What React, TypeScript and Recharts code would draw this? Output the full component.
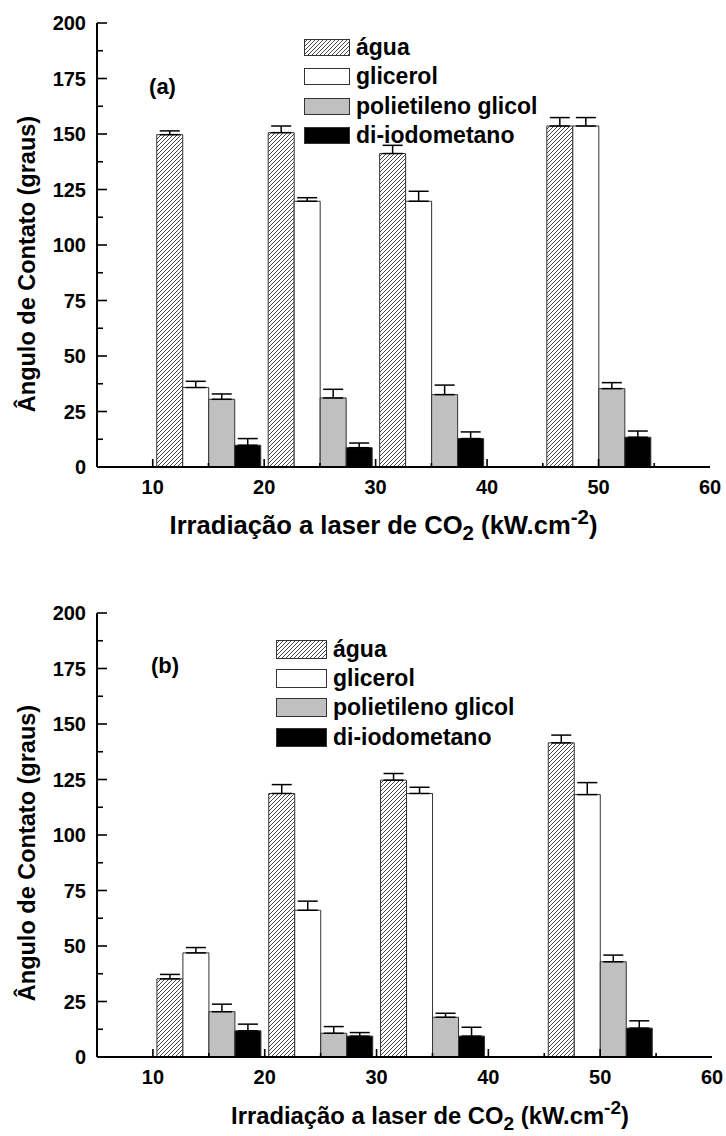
import React from 'react';
import { ComposedChart, Bar, XAxis, YAxis, ErrorBar, Legend } from 'recharts';

// posições dos grupos no eixo de irradiação
const irradiacao = [15, 25, 35, 50];
const xTicks = [10, 15, 20, 25, 30, 35, 40, 45, 50, 55, 60];
const yTicks = [0, 12.5, 25, 37.5, 50, 62.5, 75, 87.5, 100, 112.5, 125, 137.5, 150, 162.5, 175, 187.5, 200];

// painel (a)
const aguaA = [149.7, 150.6, 141.2, 153.6];
const aguaErrA = [1.7, 3.0, 3.7, 3.8];
const glicerolA = [35.8, 119.7, 119.7, 153.6];
const glicerolErrA = [2.8, 1.6, 4.5, 3.8];
const pegA = [30.5, 31.1, 32.6, 35.3];
const pegErrA = [2.4, 3.9, 4.3, 2.7];
const diiodoA = [9.8, 8.7, 12.8, 13.4];
const diiodoErrA = [3.0, 2.1, 3.0, 2.8];

// painel (b)
const aguaB = [35.2, 118.7, 124.7, 141.5];
const aguaErrB = [2.0, 4.0, 3.0, 3.5];
const glicerolB = [46.9, 66.1, 118.7, 118.2];
const glicerolErrB = [2.4, 4.1, 2.8, 5.4];
const pegB = [20.4, 10.7, 17.9, 42.9];
const pegErrB = [3.4, 3.0, 1.8, 3.0];
const diiodoB = [11.8, 9.4, 9.4, 13.0];
const diiodoErrB = [3.0, 1.6, 4.0, 3.3];

const FONT = '"Liberation Sans", Arial, Helvetica, sans-serif';

const series = [
  { key: 'agua', name: 'água', fill: 'hatch' },
  { key: 'glicerol', name: 'glicerol', fill: '#ffffff' },
  { key: 'peg', name: 'polietileno glicol', fill: '#c0c0c0' },
  { key: 'diiodo', name: 'di-iodometano', fill: '#000000' },
];

const buildRows = (agua: number[], aguaErr: number[], gli: number[], gliErr: number[], peg: number[], pegErr: number[], di: number[], diErr: number[]) =>
  irradiacao.map((x, i) => ({
    x,
    agua: agua[i], aguaErr: [0, aguaErr[i]],
    glicerol: gli[i], glicerolErr: [0, gliErr[i]],
    peg: peg[i], pegErr: [0, pegErr[i]],
    diiodo: di[i], diiodoErr: [0, diErr[i]],
  }));

const dataA = buildRows(aguaA, aguaErrA, glicerolA, glicerolErrA, pegA, pegErrA, diiodoA, diiodoErrA);
const dataB = buildRows(aguaB, aguaErrB, glicerolB, glicerolErrB, pegB, pegErrB, diiodoB, diiodoErrB);

const HatchDef = ({ id }: { id: string }) => (
  <pattern id={id} patternUnits="userSpaceOnUse" width={4} height={4}>
    <rect width={4} height={4} fill="#fff" />
    <path d="M-1,1 l2,-2 M0,4 l4,-4 M3,5 l2,-2" stroke="#333" strokeWidth={0.9} />
  </pattern>
);

const makeYTick = (side: 'left' | 'right') => (props: any) => {
  const { x, y, payload } = props;
  const v = payload.value as number;
  const major = v % 25 === 0;
  const len = side === 'left' ? (major ? 10 : 6) : (major ? 8 : 4);
  const dir = side === 'left' ? 1 : -1;
  return (
    <g>
      <line x1={x} y1={y} x2={x + dir * len} y2={y} stroke="#000" strokeWidth={1.6} />
      {side === 'left' && major && (
        <text x={x - 11} y={y} dy="0.36em" textAnchor="end" fontFamily={FONT} fontWeight="bold" fontSize={20} fill="#000">
          {v}
        </text>
      )}
    </g>
  );
};

const makeXTick = (side: 'bottom' | 'top') => (props: any) => {
  const { x, y, payload } = props;
  const v = payload.value as number;
  const major = v % 10 === 0;
  const len = major ? 8 : 4;
  const dir = side === 'bottom' ? -1 : 1;
  return (
    <g>
      {v < 60 && <line x1={x} y1={y} x2={x} y2={y + dir * len} stroke="#000" strokeWidth={1.6} />}
      {side === 'bottom' && major && (
        <text x={x} y={y + 20} dy="0.36em" textAnchor="middle" fontFamily={FONT} fontWeight="bold" fontSize={20} fill="#000">
          {v}
        </text>
      )}
    </g>
  );
};

interface PanelCfg {
  id: string;
  tag: string;
  data: ReturnType<typeof buildRows>;
  height: number;
  top: number;
  right: number;
  xAxisHeight: number;
  legendLeft: number;
  legendTop: number;
  swW: number;
  swH: number;
  tagX: number;
  tagY: number;
  xTitleX: number;
  xTitleY: number;
  xTitleSize: number;
  yTitleY: number;
}

const Panel = ({ cfg }: { cfg: PanelCfg }) => {
  const hatchId = `hatch-${cfg.id}`;
  const fillOf = (f: string) => (f === 'hatch' ? `url(#${hatchId})` : f);

  const xTitle = () => (
    <text x={cfg.xTitleX} y={cfg.xTitleY} textAnchor="middle" fontFamily={FONT} fontWeight="bold" fontSize={cfg.xTitleSize} fill="#000">
      Irradiação a laser de CO
      <tspan dy={6} fontSize={cfg.xTitleSize * 0.8}>2</tspan>
      <tspan dy={-6}> (kW.cm</tspan>
      <tspan dy={-10} fontSize={cfg.xTitleSize * 0.8}>-2</tspan>
      <tspan dy={10}>)</tspan>
    </text>
  );

  const yTitle = () => (
    <text
      x={27}
      y={cfg.yTitleY}
      dy="0.36em"
      textAnchor="middle"
      transform={`rotate(-90, 27, ${cfg.yTitleY})`}
      fontFamily={FONT}
      fontWeight="bold"
      fontSize={23.5}
      fill="#000"
    >
      Ângulo de Contato (graus)
    </text>
  );

  const legendContent = () => (
    <div>
      {series.map((s) => (
        <div key={s.key} style={{ display: 'flex', alignItems: 'center', height: 29.3 }}>
          <svg width={cfg.swW} height={cfg.swH} style={{ display: 'block' }}>
            <defs>
              <HatchDef id={`${hatchId}-lg`} />
            </defs>
            <rect
              x={0.5}
              y={0.5}
              width={cfg.swW - 1}
              height={cfg.swH - 1}
              fill={s.fill === 'hatch' ? `url(#${hatchId}-lg)` : s.fill}
              stroke="#333"
              strokeWidth={1}
            />
          </svg>
          <span style={{ marginLeft: 6, fontFamily: FONT, fontWeight: 'bold', fontSize: 23, color: '#000', whiteSpace: 'nowrap' }}>
            {s.name}
          </span>
        </div>
      ))}
    </div>
  );

  return (
    <div style={{ position: 'relative', width: 726, height: cfg.height }}>
      <ComposedChart
        width={726}
        height={cfg.height}
        data={cfg.data}
        margin={{ top: cfg.top, right: cfg.right, bottom: 0, left: 0 }}
        barGap={0}
      >
        <defs>
          <HatchDef id={hatchId} />
        </defs>
        <XAxis
          dataKey="x"
          type="number"
          domain={[5, 60]}
          allowDataOverflow
          ticks={xTicks}
          interval={0}
          height={cfg.xAxisHeight}
          tickSize={0}
          tickMargin={0}
          tickLine={false}
          tick={makeXTick('bottom')}
          axisLine={{ stroke: '#000', strokeWidth: 2 }}
          label={xTitle}
        />
        <XAxis
          xAxisId="top"
          dataKey="x"
          orientation="top"
          type="number"
          domain={[5, 60]}
          allowDataOverflow
          ticks={xTicks}
          interval={0}
          height={0}
          tickSize={0}
          tickMargin={0}
          tickLine={false}
          tick={makeXTick('top')}
          axisLine={{ stroke: '#000', strokeWidth: 2 }}
        />
        <YAxis
          type="number"
          domain={[0, 200]}
          allowDataOverflow
          ticks={yTicks}
          interval={0}
          width={97}
          tickSize={0}
          tickMargin={0}
          tickLine={false}
          tick={makeYTick('left')}
          axisLine={{ stroke: '#000', strokeWidth: 2 }}
          label={yTitle}
        />
        <YAxis
          yAxisId="r"
          orientation="right"
          type="number"
          domain={[0, 200]}
          allowDataOverflow
          ticks={yTicks}
          interval={0}
          width={0}
          tickSize={0}
          tickMargin={0}
          tickLine={false}
          tick={makeYTick('right')}
          axisLine={{ stroke: '#000', strokeWidth: 2 }}
        />
        <Legend
          layout="horizontal"
          verticalAlign="middle"
          align="center"
          content={legendContent}
          wrapperStyle={{ left: cfg.legendLeft, top: cfg.legendTop, width: 300, height: 'auto' }}
        />
        {series.map((s) => (
          <Bar
            key={s.key}
            dataKey={s.key}
            name={s.name}
            fill={fillOf(s.fill)}
            stroke="#333"
            strokeWidth={1}
            barSize={26}
            isAnimationActive={false}
          >
            <ErrorBar dataKey={`${s.key}Err`} width={10} stroke="#000" strokeWidth={1.5} direction="y" />
          </Bar>
        ))}
      </ComposedChart>
      <div
        style={{
          position: 'absolute',
          left: cfg.tagX,
          top: cfg.tagY,
          transform: 'translate(-50%, -50%)',
          fontFamily: FONT,
          fontWeight: 'bold',
          fontSize: 22,
          color: '#000',
          whiteSpace: 'nowrap',
        }}
      >
        {cfg.tag}
      </div>
    </div>
  );
};

const panelA: PanelCfg = {
  id: 'a',
  tag: '(a)',
  data: dataA,
  height: 560,
  top: 23,
  right: 16,
  xAxisHeight: 93,
  legendLeft: 304,
  legendTop: 33,
  swW: 46,
  swH: 17,
  tagX: 162.5,
  tagY: 86.5,
  xTitleX: 383.5,
  xTitleY: 534,
  xTitleSize: 25.6,
  yTitleY: 264,
};

const panelB: PanelCfg = {
  id: 'b',
  tag: '(b)',
  data: dataB,
  height: 576,
  top: 53,
  right: 14,
  xAxisHeight: 79,
  legendLeft: 276,
  legendTop: 74.5,
  swW: 51,
  swH: 19,
  tagX: 165,
  tagY: 106,
  xTitleX: 430,
  xTitleY: 564,
  xTitleSize: 23.8,
  yTitleY: 293,
};

export default function App() {
  return (
    <div style={{ position: 'absolute', left: 0, top: 0, width: 726, height: 1136, background: '#fff' }}>
      <Panel cfg={panelA} />
      <Panel cfg={panelB} />
    </div>
  );
}
